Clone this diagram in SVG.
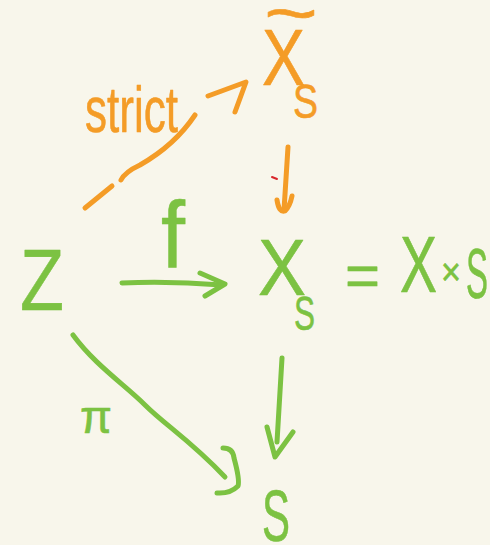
<svg xmlns="http://www.w3.org/2000/svg" width="490" height="545" viewBox="0 0 490 545">
<style>
.g{fill:#7CC242;stroke:#7CC242;stroke-width:0.6;stroke-linejoin:round;font-family:"Liberation Sans",Arial,sans-serif}
.o{fill:#F49C27;stroke:#F49C27;stroke-width:0.6;stroke-linejoin:round;font-family:"Liberation Sans",Arial,sans-serif}
.lg{fill:none;stroke:#7CC242;stroke-width:5;stroke-linecap:round;stroke-linejoin:round}
.lo{fill:none;stroke:#F49C27;stroke-width:5;stroke-linecap:round;stroke-linejoin:round}
</style>
<rect width="490" height="545" fill="#F8F6EB"/>
<g id="node-Z"><text class="g" x="20" y="310" font-size="88" textLength="44" lengthAdjust="spacingAndGlyphs">Z</text></g>
<g id="node-XS">
<text class="g" x="258" y="295" font-size="80" textLength="48" lengthAdjust="spacingAndGlyphs">X</text>
<text class="g" x="294" y="330" font-size="48" textLength="21" lengthAdjust="spacingAndGlyphs">S</text>
<text class="g" x="345" y="296" font-size="60" textLength="35" lengthAdjust="spacingAndGlyphs">=</text>
<text class="g" x="400" y="292" font-size="80" textLength="37" lengthAdjust="spacingAndGlyphs">X</text>
<text class="g" x="441" y="285" font-size="38" textLength="20" lengthAdjust="spacingAndGlyphs">×</text>
<text class="g" x="466" y="298" font-size="70" textLength="22" lengthAdjust="spacingAndGlyphs">S</text>
</g>
<g id="node-XtildeS">
<text class="o" x="264" y="37" font-size="70" textLength="54" lengthAdjust="spacingAndGlyphs">~</text>
<text class="o" x="262" y="85" font-size="80" textLength="43" lengthAdjust="spacingAndGlyphs">X</text>
<text class="o" x="293" y="118" font-size="48" textLength="25" lengthAdjust="spacingAndGlyphs">S</text>
</g>
<g id="node-S"><text class="g" x="262" y="541" font-size="72" textLength="28" lengthAdjust="spacingAndGlyphs">S</text></g>
<g id="connectors">
<g id="edge-strict">
<path class="lo" d="M85,208 L112,186"/>
<path class="lo" d="M121,180 Q125,172 140,165 Q175,145 195,115"/>
<path class="lo" d="M208,96 L246,82 L235,112"/>
<text class="o" x="85" y="132" font-size="64" textLength="93" lengthAdjust="spacingAndGlyphs">strict</text>
</g>
<g id="edge-Xtilde-XS">
<path class="lo" d="M288,147 L284,210"/>
<path class="lo" d="M277,200 Q279,213 285,211 Q290,206 292,196"/>
</g>
<g id="edge-f">
<path class="lg" d="M122,283 Q170,281 222,285"/>
<path class="lg" d="M200,273 L225,284 L205,296"/>
<text class="g" x="161" y="268" font-size="94" textLength="24" lengthAdjust="spacingAndGlyphs">f</text>
</g>
<g id="edge-XS-S">
<path class="lg" d="M282,358 L277,442"/>
<path class="lg" d="M267,427 L275,457 L293,432"/>
</g>
<g id="edge-pi">
<path class="lg" d="M73,335 C95,365 125,385 145,405 S190,440 225,477"/>
<path class="lg" d="M223,448 Q233,448 234,458 Q240,480 238,486 Q230,494 217,493"/>
<text class="g" x="80" y="433" font-size="46" textLength="32" lengthAdjust="spacingAndGlyphs">π</text>
</g>
</g>
<path d="M272,177 L277,179" stroke="#D8262B" stroke-width="2" stroke-linecap="round"/>
</svg>
